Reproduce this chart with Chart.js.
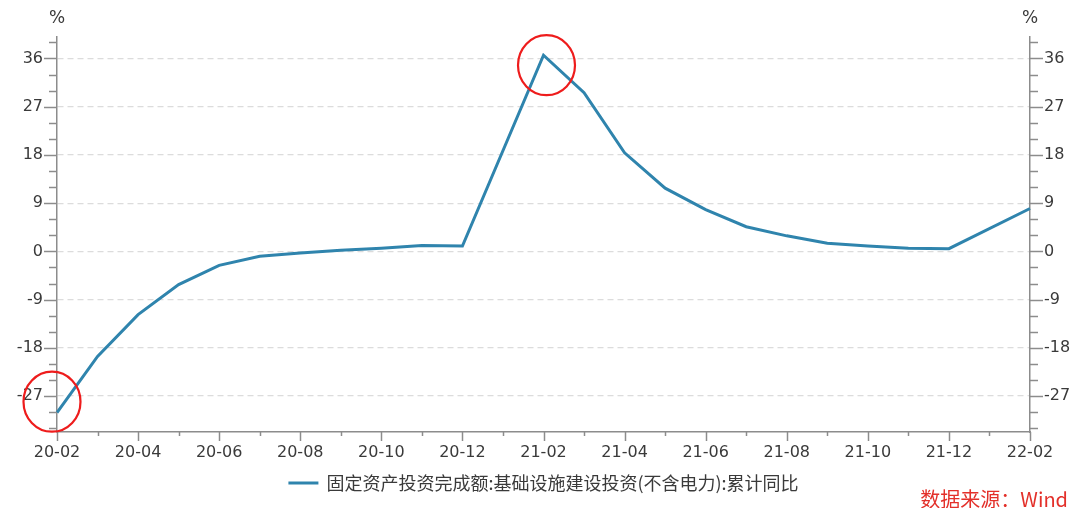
<!DOCTYPE html>
<html>
<head>
<meta charset="utf-8">
<script src="https://cdn.jsdelivr.net/npm/chart.js@4.4.1/dist/chart.umd.min.js"></script>
<style>
  html, body { margin: 0; padding: 0; background: #ffffff; }
  #wrap { width: 1071px; height: 508px; position: relative; }
</style>
</head>
<body>
<div id="wrap"><canvas id="c" width="1071" height="508"></canvas></div>
<script>
// Monthly categories, 2020-02 .. 2022-02 (January figures are not published)
const months = ['20-02','20-03','20-04','20-05','20-06','20-07','20-08','20-09','20-10','20-11','20-12','21-01',
                '21-02','21-03','21-04','21-05','21-06','21-07','21-08','21-09','21-10','21-11','21-12','22-01','22-02'];
// Cumulative YoY growth, %
const infraYoY = [-30.1, -19.6, -11.8, -6.2, -2.6, -0.9, -0.3, 0.2, 0.6, 1.1, 1.0, null,
                  36.6, 29.6, 18.4, 11.8, 7.8, 4.6, 2.9, 1.5, 1.0, 0.6, 0.5, null, 8.0];
const seriesName = '固定资产投资完成额:基础设施建设投资(不含电力):累计同比';
const yTicks = [-27, -18, -9, 0, 9, 18, 27, 36];
const yMin = -33.7, yMax = 40, yMinorStep = 3;
// Points highlighted with a red ring
const highlighted = ['20-02', '21-02'];
const sourceNote = '数据来源：Wind';

const FONT = '"DejaVu Sans", "Noto Sans CJK SC", sans-serif';
const CJK = '"Noto Sans CJK SC", "DejaVu Sans", sans-serif';
const AXIS = '#8c8c8c';
const TEXT = '#3a3a3a';
const LINE = '#2f84ad';

function minorTicks() {
  const out = [];
  for (let v = Math.ceil(yMin / yMinorStep) * yMinorStep; v <= yMax; v += yMinorStep) out.push({ value: v });
  return out;
}
const isMajor = v => yTicks.includes(v);

const yScaleBase = {
  type: 'linear', min: yMin, max: yMax,
  afterBuildTicks: s => { s.ticks = minorTicks(); },
  border: { display: true, color: AXIS, width: 1.5, dash: [6, 4] },
  ticks: {
    autoSkip: false, padding: 14, color: TEXT, font: { family: FONT, size: 16 },
    callback: v => isMajor(v) ? String(v) : ''
  }
};

// Axis tick marks: long at labelled values, short in between
const tickMarks = {
  id: 'tickMarks',
  afterDraw(chart) {
    const ctx = chart.ctx;
    ctx.save();
    ctx.strokeStyle = AXIS; ctx.lineWidth = 1.5;
    ['y', 'y2'].forEach(id => {
      const s = chart.scales[id];
      const x0 = id === 'y' ? s.right : s.left;
      const dir = id === 'y' ? -1 : 1;
      s.ticks.forEach(t => {
        const py = Math.round(s.getPixelForValue(t.value)) + 0.5;
        const len = isMajor(t.value) ? 13 : 8;
        ctx.beginPath(); ctx.moveTo(x0, py); ctx.lineTo(x0 + dir * len, py); ctx.stroke();
      });
    });
    const xs = chart.scales.x;
    months.forEach((m, i) => {
      const px = Math.round(xs.getPixelForValue(i)) + 0.5;
      const len = i % 2 === 0 ? 9 : 4;
      ctx.beginPath(); ctx.moveTo(px, xs.top); ctx.lineTo(px, xs.top + len); ctx.stroke();
    });
    ctx.restore();
  }
};

// Unit labels, legend, source note and highlight rings
const decorations = {
  id: 'decorations',
  afterDraw(chart) {
    const ctx = chart.ctx, ca = chart.chartArea;
    ctx.save();
    ctx.fillStyle = TEXT;
    ctx.font = '17px ' + FONT;
    ctx.textAlign = 'center'; ctx.textBaseline = 'middle';
    ctx.fillText('%', chart.scales.y.right, 19);
    ctx.fillText('%', chart.scales.y2.left, 19);

    // legend
    const ds = chart.data.datasets[0];
    ctx.font = '18px ' + CJK;
    const tw = ctx.measureText(ds.label).width;
    const total = 30 + 8 + tw;
    const lx = (ca.left + ca.right) / 2 - total / 2;
    const ly = 483;
    ctx.strokeStyle = ds.borderColor; ctx.lineWidth = 3;
    ctx.beginPath(); ctx.moveTo(lx, ly); ctx.lineTo(lx + 30, ly); ctx.stroke();
    ctx.textAlign = 'left';
    ctx.fillText(ds.label, lx + 38, ly);

    // source
    ctx.fillStyle = '#e3302a';
    ctx.textAlign = 'right';
    ctx.font = '20px ' + CJK;
    ctx.fillText(sourceNote, 1068, 499);

    // rings
    const meta = chart.getDatasetMeta(0);
    ctx.strokeStyle = '#ee1c1c'; ctx.lineWidth = 2.2;
    const ringShift = { '20-02': [-5, -11], '21-02': [3, 10] };
    highlighted.forEach(m => {
      const el = meta.data[months.indexOf(m)];
      const [dx, dy] = ringShift[m];
      ctx.beginPath();
      ctx.ellipse(el.x + dx, el.y + dy, 28.5, 30, 0, 0, Math.PI * 2);
      ctx.stroke();
    });
    ctx.restore();
  }
};

new Chart(document.getElementById('c'), {
  type: 'line',
  data: {
    labels: months,
    datasets: [{
      label: seriesName,
      data: infraYoY,
      borderColor: LINE,
      borderWidth: 3,
      pointRadius: 0,
      spanGaps: true,
      tension: 0
    }]
  },
  options: {
    responsive: false,
    animation: false,
    layout: { padding: { top: 37, left: 0, right: 0, bottom: 0 } },
    plugins: { legend: { display: false }, tooltip: { enabled: false } },
    scales: {
      x: {
        type: 'category', offset: false,
        afterFit: s => { s.height = 76; },
        grid: { display: false, drawTicks: false },
        border: { display: true, color: AXIS, width: 1.5 },
        ticks: {
          autoSkip: false, maxRotation: 0, padding: 11, color: TEXT,
          font: { family: FONT, size: 16 },
          callback: (v, i) => i % 2 === 0 ? months[i] : ''
        }
      },
      y: Object.assign({}, yScaleBase, {
        position: 'left',
        afterFit: s => { s.width = 57; },
        grid: {
          drawTicks: false, lineWidth: 1.2,
          color: c => isMajor(c.tick && c.tick.value) ? '#dcdcdc' : 'rgba(0,0,0,0)'
        }
      }),
      y2: Object.assign({}, yScaleBase, {
        position: 'right',
        afterFit: s => { s.width = 41; },
        grid: { display: false, drawTicks: false }
      })
    }
  },
  plugins: [tickMarks, decorations]
});
</script>
</body>
</html>
